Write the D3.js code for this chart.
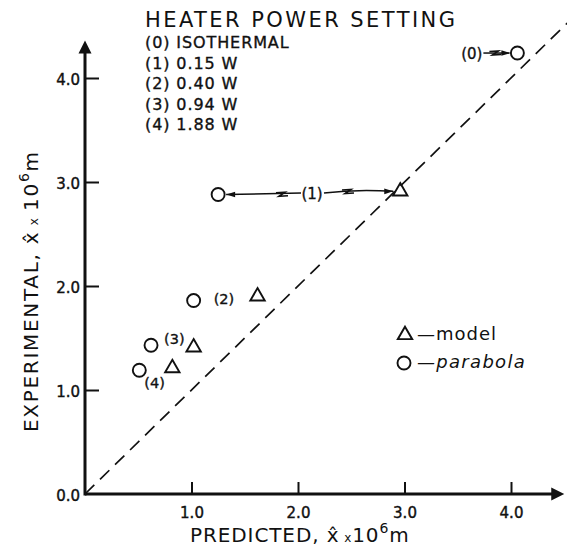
<!DOCTYPE html>
<html>
<head>
<meta charset="utf-8">
<script src="https://cdn.jsdelivr.net/npm/d3@7"></script>
<style>
  body { margin: 0; background: #fff; }
  svg { display: block; font-family: "DejaVu Sans", sans-serif; }
</style>
</head>
<body>
<div id="chart"></div>
<script>
// data
const settings = ["0", "1", "2", "3", "4"];
const powerLabels = ["ISOTHERMAL", "0.15 W", "0.40 W", "0.94 W", "1.88 W"];
const parabolaPred = [4.06, 1.25, 1.02, 0.62, 0.51];
const parabolaExp  = [4.24, 2.88, 1.86, 1.43, 1.19];
const modelPred = [null, 2.96, 1.62, 1.02, 0.82];
const modelExp  = [null, 2.91, 1.90, 1.41, 1.21];
const tickValues = [0, 1, 2, 3, 4];
const tickLabels = ["0.0", "1.0", "2.0", "3.0", "4.0"];

const width = 567, height = 547;

const svg = d3.select("#chart")
  .append("svg")
    .attr("width", width)
    .attr("height", height);

/*******************************/
/*    scales                   */
/*******************************/
const xScale = d3.scaleLinear().domain([0, 4]).range([85, 511]);
const yScale = d3.scaleLinear().domain([0, 4]).range([494, 78]);

/*******************************/
/*    axes                     */
/*******************************/
const xMax = 4.5, yMax = 4.36;

// main axis lines with arrow tips
svg.append("line")
  .attr("x1", xScale(0)).attr("y1", yScale(0))
  .attr("x2", xScale(xMax) - 8).attr("y2", yScale(0))
  .attr("stroke", "#111").attr("stroke-width", 3);
svg.append("line")
  .attr("x1", xScale(0)).attr("y1", yScale(0) + 1.5)
  .attr("x2", xScale(0)).attr("y2", yScale(yMax) + 8)
  .attr("stroke", "#111").attr("stroke-width", 3);

svg.append("path")
  .attr("d", `M${xScale(xMax)},${yScale(0)} l-13,-6.5 l0,13 z`)
  .attr("fill", "#111");
svg.append("path")
  .attr("d", `M${xScale(0)},${yScale(yMax)} l-6.5,13 l13,0 z`)
  .attr("fill", "#111");

const xAxis = d3.axisBottom(xScale)
  .tickValues(tickValues.slice(1))
  .tickSizeInner(-12)
  .tickSizeOuter(0)
  .tickPadding(8)
  .tickFormat((d, i) => tickLabels[i + 1]);

const gx = svg.append("g")
  .attr("transform", `translate(0, ${yScale(0)})`)
  .call(xAxis);
gx.select(".domain").remove();
gx.selectAll(".tick line").attr("stroke", "#111").attr("stroke-width", 2);
gx.selectAll(".tick text")
  .attr("y", 13)
  .attr("dy", "0.71em")
  .attr("font-size", 15)
  .attr("fill", "#111")
  .attr("stroke", "#111").attr("stroke-width", 0.4)
  .attr("font-family", "DejaVu Sans");

const yAxis = d3.axisLeft(yScale)
  .tickValues(tickValues)
  .tickSizeInner(-14)
  .tickSizeOuter(0)
  .tickPadding(5)
  .tickFormat((d, i) => tickLabels[i]);

const gy = svg.append("g")
  .attr("transform", `translate(${xScale(0)}, 0)`)
  .call(yAxis);
gy.select(".domain").remove();
gy.selectAll(".tick line")
  .attr("stroke", "#111").attr("stroke-width", 2)
  .attr("display", d => d === 0 ? "none" : null);
gy.selectAll(".tick text")
  .attr("font-size", 15)
  .attr("dy", "0.45em")
  .attr("fill", "#111")
  .attr("stroke", "#111").attr("stroke-width", 0.4)
  .attr("font-family", "DejaVu Sans");

// axis titles
const xTitle = svg.append("text")
  .attr("x", 190).attr("y", 542)
  .attr("font-size", 20)
  .attr("letter-spacing", 0.9)
  .attr("fill", "#111");
xTitle.append("tspan").text("PREDICTED, x\u0302");
xTitle.append("tspan").attr("font-size", 12).text(" x");
xTitle.append("tspan").text("10");
xTitle.append("tspan").attr("font-size", 14).attr("dy", -9).text("6");
xTitle.append("tspan").attr("dy", 9).text("m");

const yTitle = svg.append("text")
  .attr("transform", "translate(38, 432) rotate(-90)")
  .attr("font-size", 20)
  .attr("letter-spacing", 1.7)
  .attr("fill", "#111");
yTitle.append("tspan").text("EXPERIMENTAL, x\u0302");
yTitle.append("tspan").attr("font-size", 12).text(" x ");
yTitle.append("tspan").text("10");
yTitle.append("tspan").attr("font-size", 14).attr("dy", -9).text("6");
yTitle.append("tspan").attr("dy", 9).text("m");

/*******************************/
/*    line of equality         */
/*******************************/
svg.append("line")
  .attr("x1", xScale(0)).attr("y1", yScale(0))
  .attr("x2", xScale(4.55)).attr("y2", yScale(4.55))
  .attr("stroke", "#111")
  .attr("stroke-width", 1.7)
  .attr("stroke-dasharray", "13,8");

/*******************************/
/*    markers                  */
/*******************************/
const points = settings.map((s, i) => ({
  key: s,
  px: parabolaPred[i], py: parabolaExp[i],
  mx: modelPred[i], my: modelExp[i]
}));

svg.selectAll(".parabola")
  .data(points)
  .join("circle")
    .attr("class", "parabola")
    .attr("cx", d => xScale(d.px))
    .attr("cy", d => yScale(d.py))
    .attr("r", 6.5)
    .attr("fill", "none")
    .attr("stroke", "#111")
    .attr("stroke-width", 1.9);

const tri = d3.symbol().type(d3.symbolTriangle).size(90);

svg.selectAll(".model")
  .data(points.filter(d => d.mx !== null))
  .join("path")
    .attr("class", "model")
    .attr("transform", d => `translate(${xScale(d.mx)}, ${yScale(d.my)})`)
    .attr("d", tri)
    .attr("fill", "none")
    .attr("stroke", "#111")
    .attr("stroke-width", 1.9);

/*******************************/
/*    point annotations        */
/*******************************/
const labelOffset = { "2": [20, 3], "3": [13, -1], "4": [5, 18] };
points.filter(d => labelOffset[d.key]).forEach(d => {
  svg.append("text")
    .attr("x", xScale(d.px) + labelOffset[d.key][0])
    .attr("y", yScale(d.py) + labelOffset[d.key][1])
    .attr("font-size", 14.5)
    .attr("fill", "#111")
    .attr("stroke", "#111").attr("stroke-width", 0.35)
    .text(`(${d.key})`);
});

// break mark ("z") on the connector lines
const zMark = (g, cx, cy) => g.append("path")
  .attr("d", `M${cx - 6},${cy - 1.5} L${cx + 3},${cy - 2} L${cx - 3},${cy + 2} L${cx + 6},${cy + 1.5}`)
  .attr("fill", "none").attr("stroke", "#111").attr("stroke-width", 1.6);

const arrowHead = (g, tx, ty, dir) => g.append("path")
  .attr("d", `M${tx},${ty} l${-dir * 9},-2.8 l0,5.6 z`)
  .attr("fill", "#111");

const conn = svg.append("g");
// setting (1): label between its circle and triangle
{
  const d = points[1];
  const cx = xScale(d.px), tx = xScale(d.mx);
  const cy = yScale(d.py), ty = yScale(d.my);
  const lx = 312, ly = 193;
  conn.append("text")
    .attr("x", lx).attr("y", ly + 5.5)
    .attr("text-anchor", "middle")
    .attr("font-size", 15).attr("fill", "#111")
    .attr("stroke", "#111").attr("stroke-width", 0.35)
    .text(`(${d.key})`);
  conn.append("path")
    .attr("d", `M${lx - 11},${ly} L${cx + 8},${cy}`)
    .attr("stroke", "#111").attr("stroke-width", 1.5).attr("fill", "none");
  arrowHead(conn, cx + 8, cy, -1);
  zMark(conn, 282, (ly + cy) / 2 + 0.5);
  conn.append("path")
    .attr("d", `M${lx + 12},${ly} Q${(lx + tx) / 2},${ly - 4} ${tx - 7},${ty}`)
    .attr("stroke", "#111").attr("stroke-width", 1.5).attr("fill", "none");
  arrowHead(conn, tx - 7, ty, 1);
  zMark(conn, 348, ly - 1.5);
}
// setting (0): label to the left of its circle
{
  const d = points[0];
  const cx = xScale(d.px), cy = yScale(d.py);
  conn.append("text")
    .attr("x", cx - 35).attr("y", cy + 6)
    .attr("text-anchor", "end")
    .attr("font-size", 15).attr("fill", "#111")
    .attr("stroke", "#111").attr("stroke-width", 0.35)
    .text(`(${d.key})`);
  conn.append("line")
    .attr("x1", cx - 34).attr("y1", cy).attr("x2", cx - 8).attr("y2", cy)
    .attr("stroke", "#111").attr("stroke-width", 1.5);
  zMark(conn, cx - 22, cy);
  arrowHead(conn, cx - 7, cy, 1);
}

/*******************************/
/*    heading and key          */
/*******************************/
svg.append("text")
  .attr("x", 145).attr("y", 27)
  .attr("font-size", 21)
  .attr("textLength", 310).attr("lengthAdjust", "spacing")
  .attr("fill", "#111")
  .text("HEATER POWER SETTING");

svg.selectAll(".power")
  .data(settings)
  .join("text")
    .attr("class", "power")
    .attr("x", 145)
    .attr("y", (d, i) => 48 + i * 20.5)
    .attr("font-size", 16)
    .attr("letter-spacing", 0.9)
    .attr("fill", "#111")
    .attr("stroke", "#111").attr("stroke-width", 0.35)
    .text((d, i) => `(${d}) ${powerLabels[i]}`);

const legend = svg.append("g");
legend.append("path")
  .attr("transform", "translate(405, 335)")
  .attr("d", tri)
  .attr("fill", "none").attr("stroke", "#111").attr("stroke-width", 1.9);
legend.append("text")
  .attr("x", 417).attr("y", 340)
  .attr("font-size", 18).attr("letter-spacing", 1)
  .attr("fill", "#111")
  .text("\u2014model");
legend.append("circle")
  .attr("cx", 404).attr("cy", 363).attr("r", 6.5)
  .attr("fill", "none").attr("stroke", "#111").attr("stroke-width", 1.9);
legend.append("text")
  .attr("x", 417).attr("y", 368)
  .attr("font-size", 18).attr("letter-spacing", 1.3)
  .attr("font-style", "italic").attr("fill", "#111")
  .text("\u2014parabola");
</script>
</body>
</html>
